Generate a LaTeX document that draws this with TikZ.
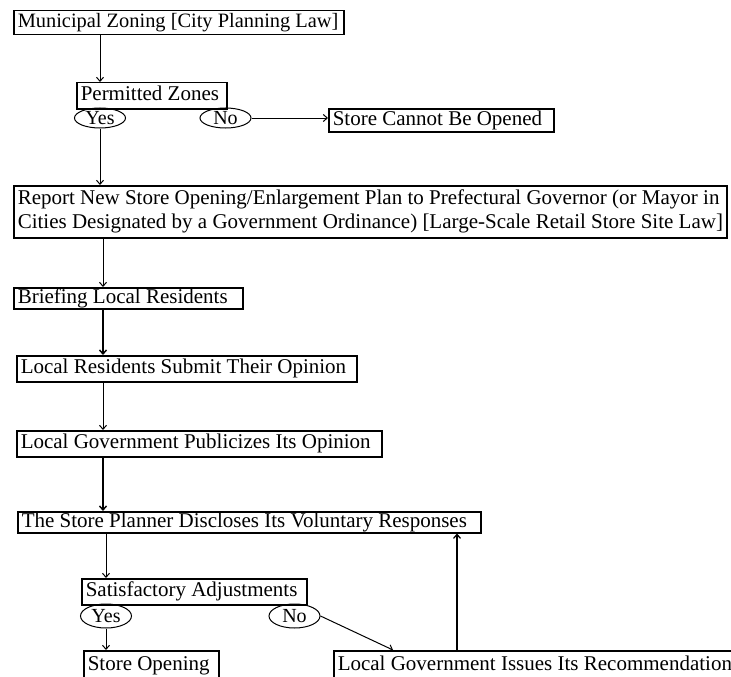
\documentclass[tikz,border=0pt]{standalone}
\usepackage{fontspec}
\setmainfont{Liberation Serif}
\usetikzlibrary{arrows.meta,shapes.geometric,calc}
\newcommand\boxfont{\fontsize{21}{24}\selectfont}
\newcommand\titlefont{\fontsize{20.4}{24}\selectfont}
\newcommand\choicefont{\fontsize{20}{20}\selectfont}
% a line of text set flush left in a slot of fixed width
\newcommand\fitline[2]{\makebox[#1][l]{#2}}
\begin{document}
\begin{tikzpicture}[x=1pt,y=-1pt,
  stepbox/.style={draw,line width=1.5pt,anchor=north west,inner xsep=4pt,inner ysep=0pt,
    font=\boxfont,text height=14pt,text depth=4.5pt},
  twoline/.style={stepbox,text height=,text depth=},
  choice/.style={draw,ellipse,line width=1pt,inner sep=0pt,minimum width=51pt,
    minimum height=20pt,font=\choicefont},
  arr/.style={line width=1pt,-{Straight Barb[length=4pt,width=7pt]}}]
\useasboundingbox (0,0) rectangle (731,677);
\clip (0,0) rectangle (731,677);

% process steps
\node[stepbox,font=\titlefont,minimum height=24pt] (zoning) at (13,10)
  {\fitline{322pt}{Municipal Zoning [City Planning Law]}};
\node[stepbox,minimum height=26pt] (zones) at (76,82)
  {\fitline{142pt}{Permitted Zones}};
\node[stepbox,minimum height=23pt] (cannot) at (328,108)
  {\fitline{217pt}{Store Cannot Be Opened}};
\node[twoline,minimum height=52pt] (report) at (13,185)
  {\fitline{705pt}{\begin{tabular}{@{}l@{}}
   Report New Store Opening/Enlargement Plan to Prefectural Governor (or Mayor in\\
   Cities Designated by a Government Ordinance) [Large-Scale Retail Store Site Law]
   \end{tabular}}};
\node[stepbox,minimum height=21pt] (brief) at (13,287)
  {\fitline{221pt}{Briefing Local Residents}};
\node[stepbox,minimum height=26pt] (submit) at (16,355)
  {\fitline{332pt}{Local Residents Submit Their Opinion}};
\node[stepbox,minimum height=26pt] (publicize) at (16,430)
  {\fitline{357pt}{Local Government Publicizes Its Opinion}};
\node[stepbox,minimum height=21pt] (planner) at (17,511)
  {\fitline{455pt}{The Store Planner Discloses Its Voluntary Responses}};
\node[stepbox,minimum height=26pt] (adjust) at (81,578)
  {\fitline{217pt}{Satisfactory Adjustments}};
\node[stepbox,minimum height=29pt] (opening) at (83,650)
  {\fitline{127pt}{Store Opening}};
\node[stepbox,minimum height=29pt] (recommend) at (333,650)
  {\fitline{402pt}{Local Government Issues Its Recommendation}};

% decisions
\node[choice] (yesA) at (100,118) {Yes};
\node[choice] (noA) at (225.5,118) {No};
\node[choice,minimum height=24pt] (yesB) at (106,616) {Yes};
\node[choice,minimum height=24pt] (noB) at (294.5,616) {No};

% guide columns for vertical connectors
\coordinate (colA) at (103,0);
\coordinate (colB) at (457,0);
\coordinate (noBend) at ($(recommend.north west)+(60,0)$);

% connectors
\draw[arr] (yesA |- zoning.south) -- (yesA |- zones.north);
\draw[arr] (noA.east) -- (noA.east -| cannot.west);
\draw[arr] (yesA.south) -- (yesA |- report.north);
\draw[arr] (colA |- report.south) -- (colA |- brief.north);
\draw[arr,line width=1.4pt] (colA |- brief.south) -- (colA |- submit.north);
\draw[arr] (colA |- submit.south) -- (colA |- publicize.north);
\draw[arr,line width=1.4pt] (colA |- publicize.south) -- (colA |- planner.north);
\draw[arr] (yesB |- planner.south) -- (yesB |- adjust.north);
\draw[arr] (yesB.south) -- (yesB |- opening.north);
\draw[arr] (noB.east) -- (noBend);
\draw[arr,line width=1.2pt] (colB |- recommend.north) -- (colB |- planner.south);
\end{tikzpicture}
\end{document}
